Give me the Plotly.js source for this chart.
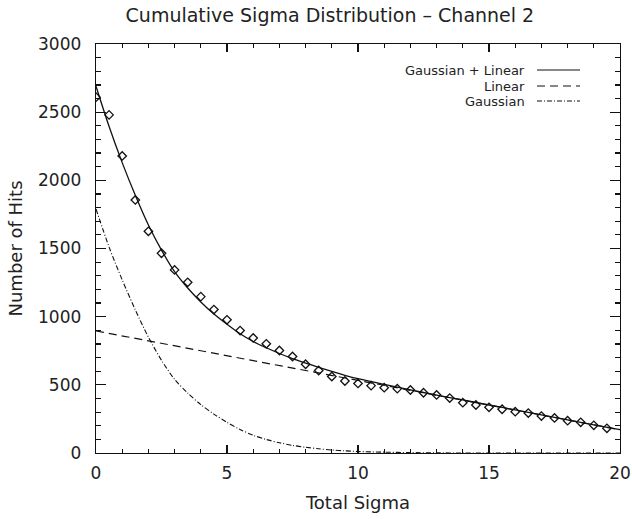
<!DOCTYPE html>
<html>
<head>
<meta charset="utf-8">
<script src="https://cdn.plot.ly/plotly-3.0.1.min.js"></script>
<style>html,body{margin:0;padding:0;background:#fff;}#chart{width:632px;height:519px;}</style>
</head>
<body>
<div id="chart"></div>
<script>
// Data points (diamonds)
const hitSigma = [0,0.5,1,1.5,2,2.5,3,3.5,4,4.5,5,5.5,6,6.5,7,7.5,8,8.5,9,9.5,10,10.5,11,11.5,12,12.5,13,13.5,14,14.5,15,15.5,16,16.5,17,17.5,18,18.5,19,19.5];
const hitCounts = [2610,2480,2179,1856,1626,1465,1343,1252,1147,1052,977,898,844,801,752,708,651,605,561,528,510,494,479,472,462,442,426,403,369,352,335,321,303,293,271,257,237,225,203,181];

// Fit curves
const fitSigma = [0,0.5,1,1.5,2,2.5,3,3.5,4,4.5,5,5.5,6,6.5,7,7.5,8,8.5,9,9.5,10,11,12,13,14,15,16,17,18,19,20];
const totalFit = [2690,2395,2130,1890,1672,1488,1330,1210,1108,1020,945,875,818,772,730,693,660,628,598,570,545,503,463,425,389,352,316,280,243,207,171];
const gaussFit = [1790,1510,1270,1050,850,680,540,440,355,285,225,172,130,99,75,56,42,31,22,16,11,6,3,1,0,0,0,0,0,0,0];
const linearSigma = [0,20];
const linearFit = [895,170];

const legendLabels = ['Gaussian + Linear','Linear','Gaussian'];

const ink = '#111';
const txt = '#222';
const fam = 'DejaVu Sans';
const traces = [
  {x: fitSigma, y: totalFit, mode:'lines', line:{color:ink, width:1.3, shape:'spline', smoothing:0.8}, hoverinfo:'skip'},
  {x: linearSigma, y: linearFit, mode:'lines', line:{color:ink, width:1.2, dash:'8px,5px'}, hoverinfo:'skip'},
  {x: fitSigma, y: gaussFit, mode:'lines', line:{color:ink, width:1.1, dash:'5px,2px,1px,2px', shape:'spline', smoothing:0.8}, hoverinfo:'skip'},
  {x: hitSigma, y: hitCounts, mode:'markers', marker:{symbol:'diamond-open', size:6.5, color:ink, line:{width:1.3, color:ink}}},
  // empty trace so the mirrored tick axes (top/right) are drawn
  {x: [], y: [], xaxis:'x2', yaxis:'y2', mode:'markers', hoverinfo:'skip'}
];

const legY = [0.9364, 0.8973, 0.8606];
const dashes = ['solid','8px,5px','5px,2px,1px,2px'];
const annotations = legendLabels.map((t,i)=>({
  xref:'paper', yref:'paper', x:0.8225, y:legY[i], xanchor:'right', yanchor:'middle',
  text:t, showarrow:false, font:{family:fam, size:13, color:txt}
}));
const shapes = legendLabels.map((t,i)=>({
  type:'line', xref:'paper', yref:'paper', x0:0.8416, x1:0.9237, y0:legY[i], y1:legY[i],
  line:{color:ink, width:1.2, dash:dashes[i]}
}));

const axisCommon = {
  showgrid:false, zeroline:false, showline:true, linecolor:ink, linewidth:1.3,
  mirror:true, ticks:'inside', tickcolor:ink, tickwidth:1.2,
  tickfont:{family:fam, size:17, color:txt}
};
const xTicks = {range:[0,20], dtick:5, tick0:0, ticklen:8, minor:{dtick:1, ticklen:4, tickcolor:ink, ticks:'inside'}};
const yTicks = {range:[0,3000], dtick:500, tick0:0, ticklen:10, minor:{dtick:100, ticklen:5, tickcolor:ink, ticks:'inside'}};
const layout = {
  width:632, height:519,
  margin:{l:96, r:12, t:44, b:66},
  paper_bgcolor:'#fff', plot_bgcolor:'#fff',
  showlegend:false,
  title:{text:'Cumulative Sigma Distribution \u2013 Channel 2', font:{family:fam, size:19, color:txt}, x:0.522, xref:'container', y:0.97, yanchor:'middle'},
  xaxis:Object.assign({}, axisCommon, xTicks, {
    ticklabelstandoff:4,
    title:{text:'Total Sigma', font:{family:fam, size:18, color:txt}, standoff:14}
  }),
  yaxis:Object.assign({}, axisCommon, yTicks, {
    ticklabelstandoff:10,
    title:{text:'Number of Hits', font:{family:fam, size:18, color:txt}, standoff:10}
  }),
  xaxis2:Object.assign({}, xTicks, {overlaying:'x', side:'top', anchor:'y', showticklabels:false, showgrid:false, zeroline:false, showline:false, ticks:'inside', tickcolor:ink, tickwidth:1.2}),
  yaxis2:Object.assign({}, yTicks, {overlaying:'y', side:'right', anchor:'x', showticklabels:false, showgrid:false, zeroline:false, showline:false, ticks:'inside', tickcolor:ink, tickwidth:1.2}),
  annotations: annotations,
  shapes: shapes
};
Plotly.newPlot('chart', traces, layout, {displayModeBar:false, staticPlot:true});
</script>
</body>
</html>
